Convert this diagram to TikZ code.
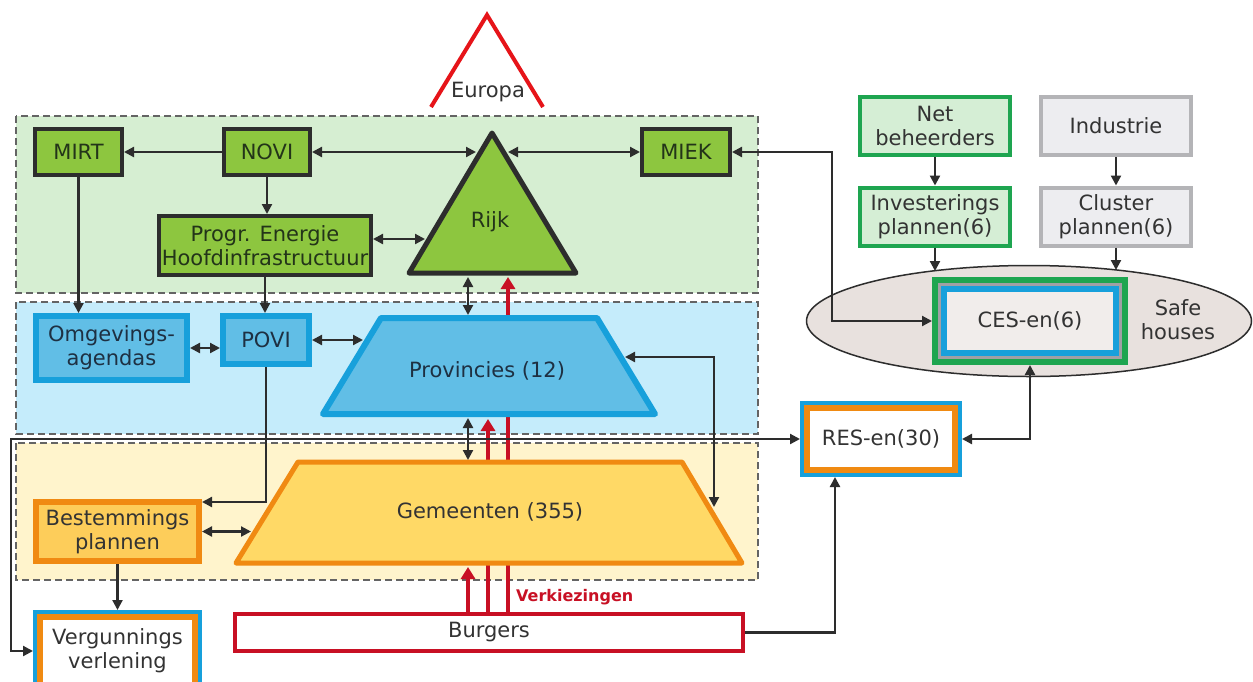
\documentclass[tikz,border=0pt]{standalone}
\usepackage{fontspec}
\setmainfont{DejaVu Sans}
\usetikzlibrary{arrows.meta,shapes.geometric}
\definecolor{txtc}{RGB}{51,51,51}
\definecolor{gtxt}{RGB}{35,52,25}
\definecolor{btxt}{RGB}{30,48,66}
\definecolor{darkc}{RGB}{45,45,45}
\definecolor{greenbg}{RGB}{214,238,210}
\definecolor{bluebg}{RGB}{197,236,251}
\definecolor{yellowbg}{RGB}{255,244,204}
\definecolor{greenc}{RGB}{141,198,63}
\definecolor{bluefill}{RGB}{97,190,230}
\definecolor{blueborder}{RGB}{23,160,219}
\definecolor{yellowfill}{RGB}{255,217,102}
\definecolor{orangec}{RGB}{240,138,18}
\definecolor{bestfill}{RGB}{253,205,90}
\definecolor{netfill}{RGB}{213,238,213}
\definecolor{netborder}{RGB}{30,165,80}
\definecolor{indfill}{RGB}{237,237,240}
\definecolor{indborder}{RGB}{180,180,183}
\definecolor{ellfill}{RGB}{232,225,222}
\definecolor{cesfill}{RGB}{241,237,235}
\definecolor{greyc}{RGB}{160,160,165}
\definecolor{redc}{RGB}{200,16,36}
\definecolor{eured}{RGB}{230,20,25}
\definecolor{dashc}{RGB}{100,100,100}
\tikzset{
  lbl/.style={font=\fontsize{21}{24}\selectfont, text=txtc, align=center, inner sep=0pt},
  region/.style={draw=dashc, line width=1.6pt, dash pattern=on 7pt off 4pt},
  gbox/.style={lbl, text=gtxt, draw=darkc, fill=greenc, line width=4pt},
  bbox/.style={lbl, text=btxt, draw=blueborder, fill=bluefill, line width=6pt},
  netbox/.style={lbl, draw=netborder, fill=netfill, line width=4pt, minimum width=150pt, minimum height=58pt},
  indbox/.style={lbl, draw=indborder, fill=indfill, line width=4pt, minimum width=150pt, minimum height=58pt},
  conn/.style={draw=darkc, line width=2.2pt},
  arr/.style={conn, -{Triangle[length=10pt,width=10pt]}},
  darr/.style={conn, {Triangle[length=10pt,width=10pt]}-{Triangle[length=10pt,width=10pt]}},
  redarr/.style={draw=redc, line width=4.5pt, -{Triangle[length=12pt,width=14pt]}},
}
\begin{document}
\begin{tikzpicture}[x=1pt,y=-1pt]
\useasboundingbox (0,0) rectangle (1253,681);
\clip (0,0) rectangle (1253,681);
\fill[white] (0,0) rectangle (1253,681);

% regions
\filldraw[region, fill=greenbg] (16,116) rectangle (758,293);
\filldraw[region, fill=bluebg] (16,302) rectangle (758,434);
\filldraw[region, fill=yellowbg] (16,443) rectangle (758,580);

% Europa
\draw[eured, line width=4pt] (431,107) -- (487,15) -- (543,107);
\node[lbl] (europa) at (488,92) {Europa};

% red election lines (behind the shapes)
\coordinate (r1a) at (468,612); \coordinate (r1b) at (468,567);
\coordinate (r2a) at (488,612); \coordinate (r2b) at (488,419);
\coordinate (r3a) at (508,612); \coordinate (r3b) at (508,277);
\draw[redarr] (r1a) -- (r1b);
\draw[redarr] (r2a) -- (r2b);
\draw[redarr] (r3a) -- (r3b);

% shapes
\draw[darkc, fill=greenc, line width=5pt, line join=round] (492,133) -- (576,273) -- (409,273) -- cycle;
\node[lbl, text=gtxt] (rijk) at (490,222) {Rijk};
\draw[blueborder, fill=bluefill, line width=6pt, line join=round] (381,318) -- (597,318) -- (655,414) -- (323,414) -- cycle;
\node[lbl, text=btxt] (prov) at (487,371) {Provincies (12)};
\draw[orangec, fill=yellowfill, line width=5pt, line join=round] (298,462) -- (682,462) -- (742,563) -- (236,563) -- cycle;
\node[lbl] (gem) at (490,512) {Gemeenten (355)};

\node[gbox, minimum width=87pt, minimum height=46pt] (mirt) at (78.5,152) {MIRT};
\node[gbox, minimum width=86pt, minimum height=46pt] (novi) at (267,152) {NOVI};
\node[gbox, minimum width=88pt, minimum height=46pt] (miek) at (686,152) {MIEK};
\node[gbox, minimum width=212pt, minimum height=59pt] (progr) at (265,245.5) {Progr. Energie\\Hoofdinfrastructuur};

\node[bbox, minimum width=151pt, minimum height=64pt] (omg) at (111.5,348) {Omgevings-\\agendas};
\node[bbox, minimum width=86pt, minimum height=48pt] (povi) at (266,340) {POVI};

\node[lbl, draw=orangec, fill=bestfill, line width=6pt, minimum width=163pt, minimum height=59pt] (best) at (117.5,531.5) {Bestemmings\\plannen};
\node[lbl, draw=orangec, fill=white, line width=6pt, preaction={draw=blueborder, line width=14pt}, outer sep=7pt, minimum width=155pt, minimum height=68pt] (verg) at (117.5,651) {Vergunnings\\verlening};

\node[lbl, draw=redc, fill=white, line width=4pt, minimum width=508pt, minimum height=37pt] (burg) at (489,632.5) {Burgers};
\node[font=\bfseries\fontsize{16}{18}\selectfont, text=redc, anchor=west, inner sep=0pt] (verk) at (516,597) {Verkiezingen};

\node[lbl, draw=orangec, fill=white, line width=6pt, preaction={draw=blueborder, line width=14pt}, outer sep=7pt, minimum width=148pt, minimum height=62pt] (res) at (881,439) {RES-en(30)};

\node[netbox] (net) at (935,126) {Net\\beheerders};
\node[indbox] (ind) at (1116,126) {Industrie};
\node[netbox] (inv) at (935,216.5) {Investerings\\plannen(6)};
\node[indbox] (clu) at (1116,216.5) {Cluster\\plannen(6)};

\node[ellipse, draw=darkc, fill=ellfill, line width=1.5pt, minimum width=445pt, minimum height=111pt, inner sep=0pt] (safe) at (1029,321) {};
\node[lbl, draw=blueborder, fill=cesfill, line width=6pt, preaction={draw=netborder, line width=24pt}, preaction={draw=greyc, line width=12pt}, outer sep=12pt, minimum width=172pt, minimum height=64pt] (ces) at (1030,321) {CES-en(6)};
\node[lbl] (safetxt) at (1178,319.5) {Safe\\houses};

% connector helper coordinates
\coordinate (rijkNW) at (476,152);
\coordinate (rijkNE) at (508,152);
\coordinate (rijkW) at (425,239);
\coordinate (rijkB) at (468,277);
\coordinate (provT) at (468,315);
\coordinate (provB) at (468,418);
\coordinate (gemT) at (468,460);
\coordinate (provL) at (363,340);
\coordinate (provR) at (625,357);
\coordinate (gemR) at (714,507);
\coordinate (gemL) at (251,531.5);
\coordinate (lx) at (11,0);
\coordinate (mx) at (832,0);
\coordinate (bx) at (835,0);
\coordinate (sh1) at (935,271);
\coordinate (sh2) at (1116,270);
\coordinate (progrE) at (373,239);
\coordinate (bestNE) at (202,502);

% black connectors
\draw[arr] (novi.west) -- (mirt.east);
\draw[darr] (novi.east) -- (rijkNW);
\draw[darr] (rijkNE) -- (miek.west);
\draw[arr] (novi.south) -- (novi.south |- progr.north);
\draw[darr] (progrE) -- (rijkW);
\draw[arr] (progr.south) -- (progr.south |- povi.north);
\draw[arr] (mirt.south) -- (mirt.south |- omg.north);
\draw[darr] (omg.east) -- (omg.east -| povi.west);
\draw[darr] (povi.east) -- (provL);
\draw[darr] (rijkB) -- (provT);
\draw[darr] (provB) -- (gemT);
\draw[arr] (povi.south) |- (bestNE);
\draw[darr] (best.east) -- (gemL);
\draw[arr] (best.south) -- (verg.north);
\draw[darr] (res.west) -- (res.west -| lx) |- (verg.west);
\draw[darr] (provR) -| (gemR);
\draw[darr] (miek.east) -- (miek.east -| mx) |- (ces.west);
\draw[arr] (net.south) -- (inv.north);
\draw[arr] (inv.south) -- (sh1);
\draw[arr] (ind.south) -- (clu.north);
\draw[arr] (clu.south) -- (sh2);
\draw[darr] (ces.south) |- (res.east);
\draw[arr] (burg.east) -- (burg.east -| bx) -- (bx |- res.south);
\end{tikzpicture}
\end{document}
